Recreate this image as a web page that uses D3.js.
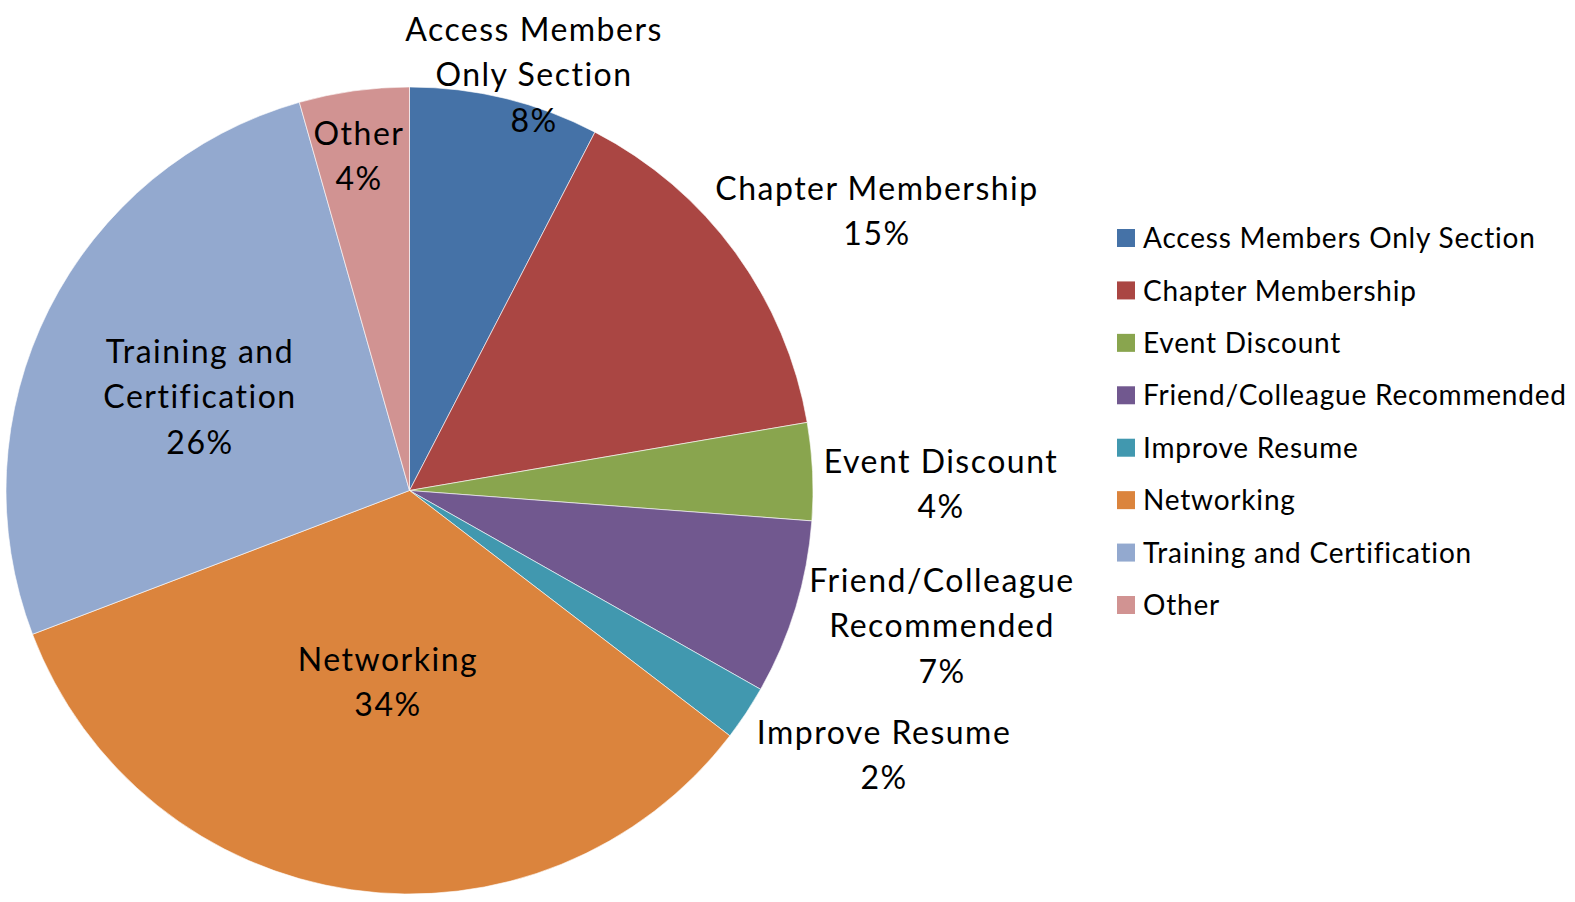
<!DOCTYPE html>
<html>
<head>
<meta charset="utf-8">
<script src="https://cdn.jsdelivr.net/npm/d3@7"></script>
<style>
  body { margin: 0; background: #fff; }
  text { font-family: Lato, "Open Sans", sans-serif; fill: #000; }
</style>
</head>
<body>
<div id="chart"></div>
<script>
var width = 1575;
var height = 902;

// data
var categories = ["Access Members Only Section", "Chapter Membership", "Event Discount",
  "Friend/Colleague Recommended", "Improve Resume", "Networking",
  "Training and Certification", "Other"];
var values = [7.6, 14.7, 3.9, 7.0, 2.2, 33.8, 26.4, 4.4];
var colors = ["#4572A7", "#AA4643", "#89A54E", "#71588F", "#4198AF", "#DB843D", "#93A9CF", "#D19392"];
var labelLines = [["Access Members", "Only Section"], ["Chapter Membership"], ["Event Discount"],
  ["Friend/Colleague", "Recommended"], ["Improve Resume"], ["Networking"],
  ["Training and", "Certification"], ["Other"]];

// label anchors (x, y of first line) picked to follow the original layout
var labelAnchor = [[534, 29], [877, 188], [941, 461], [942, 580], [884, 732], [388, 659], [200, 351], [359, 133]];

var cx = 409.5, cy = 490.5, radius = 403.5;

var svg = d3.select("#chart")
  .append("svg")
  .attr("width", width)
  .attr("height", height);

var pie = d3.pie().sort(null).value(function(d) { return d; });
var arc = d3.arc().innerRadius(0).outerRadius(radius);

var g = svg.append("g").attr("transform", "translate(" + cx + "," + cy + ")");

g.selectAll("path")
  .data(pie(values))
  .enter()
  .append("path")
  .attr("d", arc)
  .attr("fill", function(d, i) { return colors[i]; })
  .attr("stroke", "#fff")
  .attr("stroke-width", 0.6);

// data labels
var lineH = 45.5;
var labels = svg.append("g");
labels.selectAll("text")
  .data(categories)
  .enter()
  .append("text")
  .attr("text-anchor", "middle")
  .attr("font-size", 32)
  .attr("letter-spacing", 1.5)
  .each(function(d, i) {
    var t = d3.select(this);
    var lines = labelLines[i].concat([Math.round(values[i]) + "%"]);
    lines.forEach(function(s, k) {
      t.append("tspan")
        .attr("x", labelAnchor[i][0])
        .attr("y", labelAnchor[i][1] + k * lineH)
        .attr("dy", "0.36em")
        .text(s);
    });
  });

// legend
var legend = svg.append("g");
var rowY = d3.scaleLinear().domain([0, 7]).range([238, 605]);
var items = legend.selectAll("g")
  .data(categories)
  .enter()
  .append("g")
  .attr("transform", function(d, i) { return "translate(1117," + rowY(i) + ")"; });

items.append("rect")
  .attr("x", 0)
  .attr("y", -9)
  .attr("width", 18)
  .attr("height", 18)
  .attr("fill", function(d, i) { return colors[i]; });

items.append("text")
  .attr("x", 26)
  .attr("dy", "0.36em")
  .attr("font-size", 28)
  .attr("letter-spacing", 0.8)
  .text(function(d) { return d; });
</script>
</body>
</html>
